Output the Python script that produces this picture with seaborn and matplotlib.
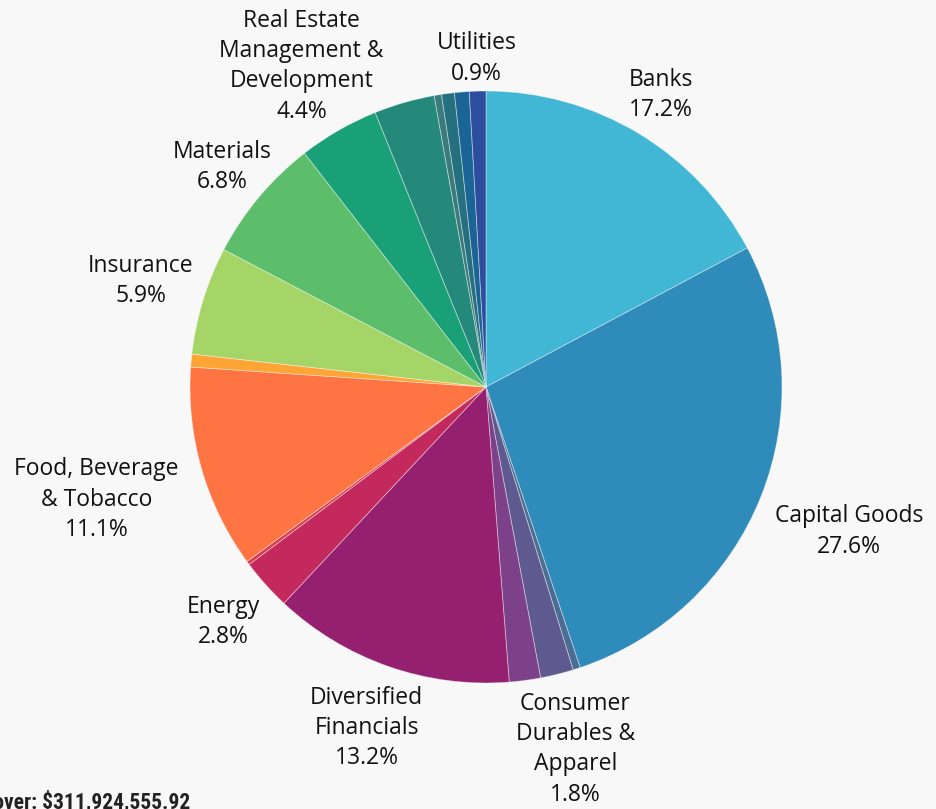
import numpy as np
import matplotlib
matplotlib.use("Agg")
import matplotlib.pyplot as plt
from matplotlib import font_manager
from matplotlib.font_manager import FontProperties
import seaborn as sns

# ---- data ----
sectors = [
    "Banks", "Capital Goods", "Commercial & Professional Services",
    "Consumer Durables & Apparel", "Consumer Services",
    "Diversified Financials", "Energy", "Food & Staples Retailing",
    "Food, Beverage & Tobacco", "Health Care Equipment & Services",
    "Insurance", "Materials", "Real Estate Management & Development",
    "Retailing", "Software & Services", "Technology Hardware & Equipment",
    "Transportation", "Utilities",
]
shares = [17.2, 27.6, 0.4, 1.8, 1.7, 13.2, 2.8, 0.2, 11.1, 0.7,
          5.9, 6.8, 4.4, 3.3, 0.4, 0.7, 0.8, 0.9]
labels = ["Banks\n17.2%", "Capital Goods\n27.6%", "",
          "Consumer\nDurables &\nApparel\n1.8%", "",
          "Diversified\nFinancials\n13.2%", "Energy\n2.8%", "",
          "Food, Beverage\n& Tobacco\n11.1%", "",
          "Insurance\n5.9%", "Materials\n6.8%",
          "Real Estate\nManagement &\nDevelopment\n4.4%", "", "", "", "",
          "Utilities\n0.9%"]
colors = ["#42b6d5", "#2e8bba", "#4a6e93", "#5e5a90", "#7d4189",
          "#952070", "#c4295e", "#dd3a4c", "#ff7443", "#ffa535",
          "#a5d467", "#5cbd6b", "#1aa077", "#24897a", "#3b7b7b",
          "#25707f", "#1b6496", "#2c4e9c"]
label_radius = [1.15, 1.32, 1.2, 1.26, 1.2, 1.22, 1.19, 1.2, 1.37, 1.2,
                1.22, 1.16, 1.25, 1.2, 1.2, 1.2, 1.2, 1.11]
footer = "Total Turnover: $311,924,555.92"

sns.set_theme(style="white")
plt.rcParams['font.family'] = ['Open Sans', 'DejaVu Sans']

# pick a condensed bold face for the footer if one is installed
cond_file = None
for f in font_manager.fontManager.ttflist:
    fn = f.fname.lower()
    if ("condensed" in fn or "narrow" in fn) and "bold" in fn and "oblique" not in fn and "italic" not in fn:
        cond_file = f.fname
        if "liberation" in fn:
            break

W, H = 937, 809
R = 296.0
cx, cy = 486.0, 387.0
bg = "#f8f8f8"

fig = plt.figure(figsize=(W / 100, H / 100), dpi=100, facecolor=bg)
ax = fig.add_axes([0, 0, 1, 1])
ax.set_facecolor(bg)

palette = sns.color_palette(colors)
wedges, _ = ax.pie(shares, colors=palette, startangle=90, counterclock=False,
                   radius=1.0, normalize=True,
                   wedgeprops=dict(edgecolor=(1, 1, 1, 0.45), linewidth=0.6))

total = float(np.sum(shares))
cum = np.cumsum([0] + shares[:-1])
for s, c, lab, rf in zip(shares, cum, labels, label_radius):
    if not lab:
        continue
    theta = np.deg2rad((c + s / 2) / total * 360.0)
    x = rf * np.sin(theta)
    y = rf * np.cos(theta)
    ax.text(x, y, lab, ha="center", va="center", fontsize=16.5,
            color="#111111", linespacing=1.35)

ax.set_xlim(-cx / R, (W - cx) / R)
ax.set_ylim(-(H - cy) / R, cy / R)
ax.set_aspect("auto")
ax.axis("off")

if cond_file:
    fp = FontProperties(fname=cond_file, size=15.5)
else:
    fp = FontProperties(family="DejaVu Sans", weight="bold", size=12.5)
fig.text(190 / W, 0.5 / H, footer, ha="right", va="baseline",
         fontproperties=fp, color="#222222")

fig.savefig("out.png", dpi=100, facecolor=bg)
